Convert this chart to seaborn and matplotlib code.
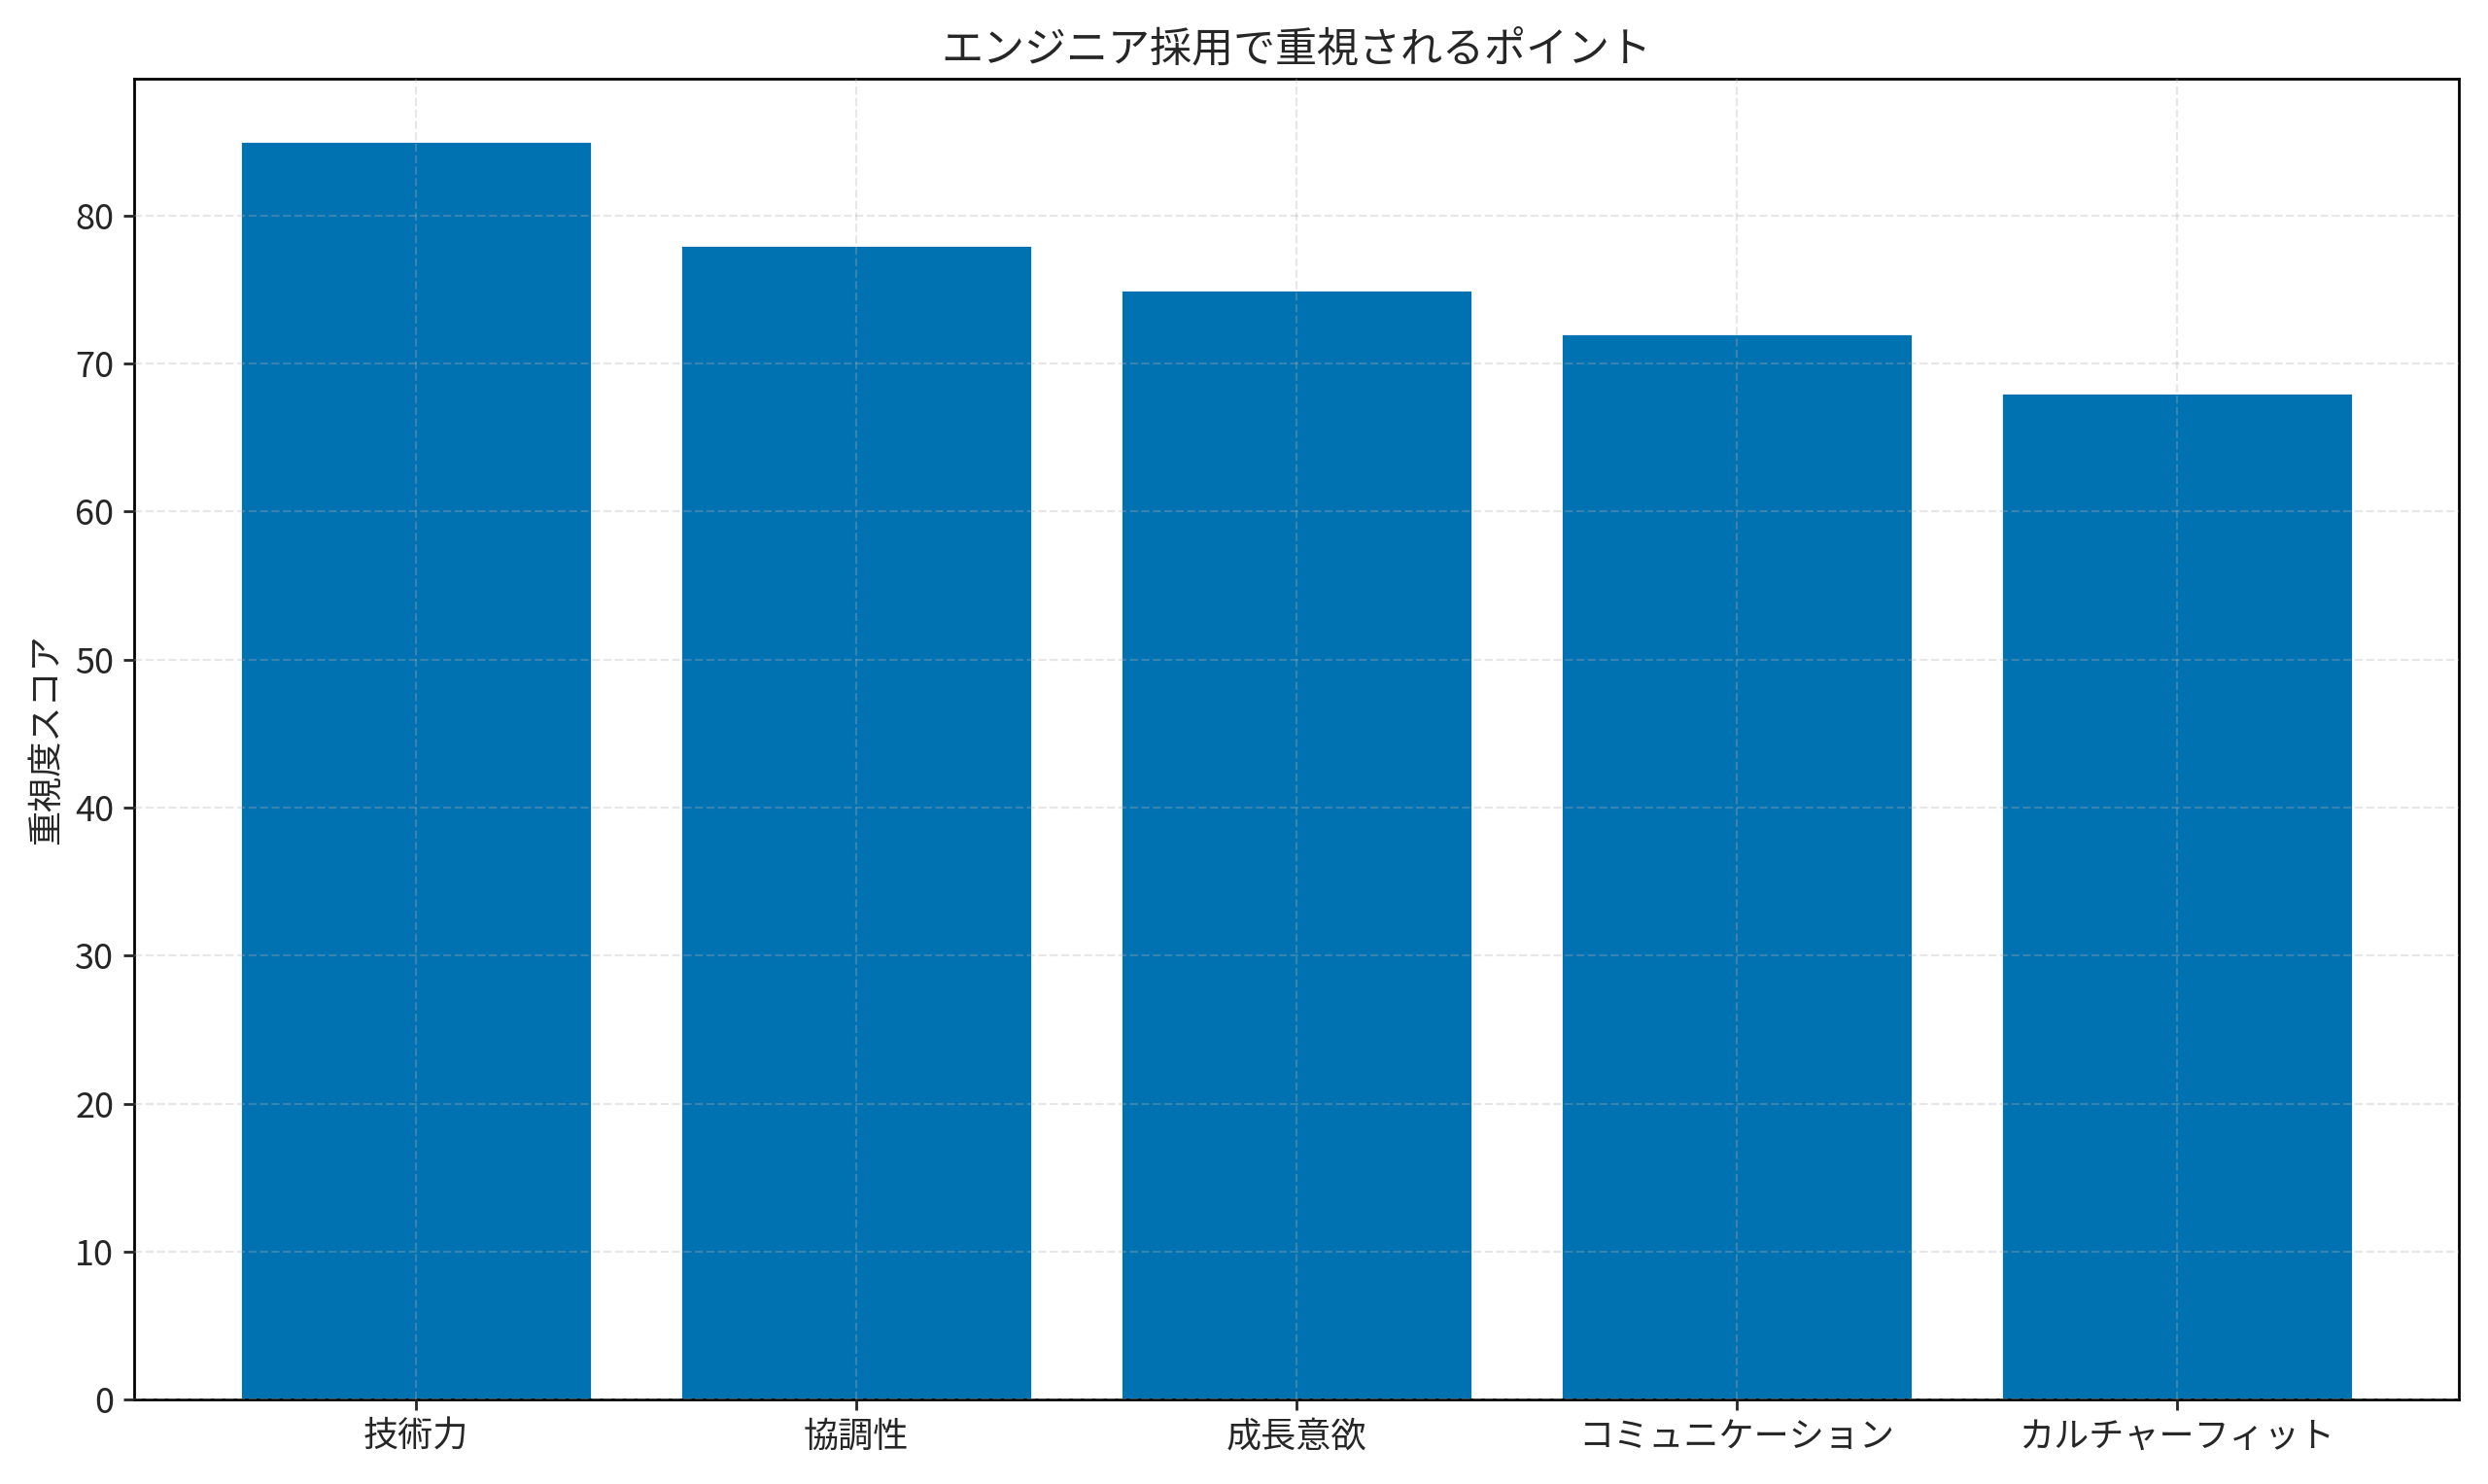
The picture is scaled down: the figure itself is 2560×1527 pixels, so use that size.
import matplotlib
matplotlib.use("Agg")
import matplotlib.pyplot as plt
import seaborn as sns
import pandas as pd

# 重視されるポイントとスコア
points = ["技術力", "協調性", "成長意欲", "コミュニケーション", "カルチャーフィット"]
scores = [85, 78, 75, 72, 68]

df = pd.DataFrame({"point": points, "score": scores})

sns.set_style("white")
plt.rcParams['font.family'] = ['Noto Sans CJK JP', 'DejaVu Sans']

fig, ax = plt.subplots(figsize=(12.8, 7.635), dpi=200)
sns.barplot(data=df, x="point", y="score", color="#0072B2", saturation=1,
            width=0.8, ax=ax)

ax.set_xlim(-0.64, len(points) - 1 + 0.64)
ax.set_ylim(0, max(scores) * 1.05)
ax.set_title("エンジニア採用で重視されるポイント", fontsize=15.5)
ax.set_xlabel("")
ax.set_ylabel("重視度スコア", fontsize=13)
ax.tick_params(axis="both", labelsize=13, length=4, width=1, bottom=True, left=True)
ax.grid(True, linestyle="--", color="#b0b0b0", alpha=0.3)
ax.set_axisbelow(False)
for s in ax.spines.values():
    s.set_visible(True)
    s.set_color("black")
    s.set_linewidth(1)

plt.tight_layout()
plt.savefig("out.png", dpi=200)
